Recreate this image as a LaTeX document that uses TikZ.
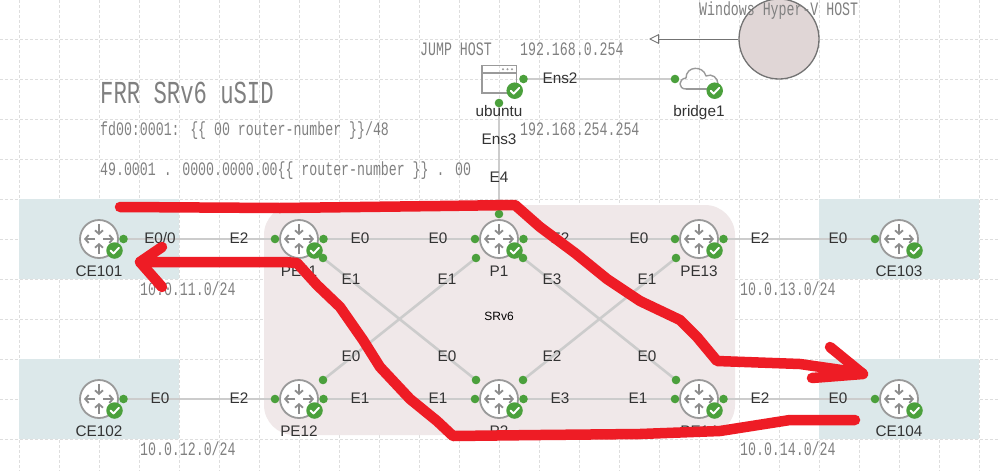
\documentclass[tikz,border=0pt]{standalone}
\usepackage{fontspec}
\usepackage{graphicx}
\setmainfont{Liberation Sans}
\newfontfamily\monoface{Liberation Mono}
\usetikzlibrary{arrows.meta}
\definecolor{gridc}{HTML}{DEDEDE}
\definecolor{zonec}{HTML}{DCE8EA}
\definecolor{srzone}{HTML}{F0E8E9}
\definecolor{linkc}{HTML}{CCCCCC}
\definecolor{portc}{HTML}{4BA03C}
\definecolor{iconc}{HTML}{9A9A9A}
\definecolor{arrowc}{HTML}{8C8C8C}
\definecolor{notec}{HTML}{808080}
\definecolor{inkc}{HTML}{333333}
\definecolor{redc}{HTML}{EE1C25}
\definecolor{hostc}{HTML}{E0D6D6}
\newcommand{\smalltxt}[1]{\scalebox{.697}[1]{\fontsize{19}{19}\selectfont\monoface #1}}
\newcommand{\bigtxt}[1]{\scalebox{.695}[1]{\fontsize{32}{32}\selectfont\monoface #1}}
\tikzset{
  gridline/.style={gridc,line width=.8pt,dash pattern=on 2.5pt off 2.5pt},
  zone/.style={fill=zonec,draw=none},
  port/.style={circle,fill=portc,draw=none,minimum size=8.6pt,inner sep=0pt},
  link/.style={linkc,line width=2.6pt},
  lbl/.style={anchor=base,inner sep=0pt,text=inkc,font=\fontsize{15.3}{15.3}\selectfont},
  note/.style={anchor=base west,inner sep=0pt,text=notec},
  rarrow/.style={arrowc,line width=2pt,-{Straight Barb[length=3.5pt,width=8pt,line width=1.8pt]}},
  redstroke/.style={redc,line width=10.5pt,line cap=round,line join=round},
  okbadge/.style={circle,fill=portc,draw=none,minimum size=16.5pt,inner sep=0pt},
  check/.style={white,line width=1.9pt,line cap=round,line join=round},
}
\newcommand{\badge}[2]{%
  \node[okbadge] at (#1,#2) {};
  \draw[check] (#1-4,#2) -- (#1-1,#2+3) -- (#1+4.5,#2-2.8);
}
\newcommand{\rtr}[4]{%
  \node[circle,draw=iconc,fill=white,line width=1.8pt,minimum size=38pt,inner sep=0pt] (#1) at (#2,#3) {};
  \draw[rarrow] (#2,#3-15) -- (#2,#3-4);
  \draw[rarrow] (#2,#3+15) -- (#2,#3+4);
  \draw[rarrow] (#2-4,#3) -- (#2-15,#3);
  \draw[rarrow] (#2+4,#3) -- (#2+15,#3);
  \badge{#2+15.5}{#3+11.5}
  \node[lbl] (#1lbl) at (#2,#3+37.5) {#4};
}
\begin{document}
\begin{tikzpicture}[x=1pt,y=-1pt]
\useasboundingbox (0,0) rectangle (1000,471);
\fill[white] (0,0) rectangle (1000,471);
% grid
\foreach \gx in {19,59,...,979} \draw[gridline] (\gx,0) -- (\gx,471);
\foreach \gy in {39,79,...,439} \draw[gridline] (0,\gy) -- (1000,\gy);
% zones
\fill[zone] (19,199) rectangle (179,279);
\fill[zone] (19,359) rectangle (179,439);
\fill[zone] (819,199) rectangle (979,279);
\fill[zone] (819,359) rectangle (979,439);
\fill[srzone,rounded corners=30pt] (264,205) rectangle (735,435);
% host
\node[circle,draw=black!55,fill=hostc,line width=1.3pt,minimum size=80pt,inner sep=0pt] (host) at (779,39) {};
\coordinate (hostarrow) at (649,39);
\draw[black!55,line width=.9pt,-{Triangle[open,length=10pt,width=10pt,fill=white]}] (host.west) -- (hostarrow);
% ports
\foreach \pn/\px/\py in {
  ce101r/123.5/239, pe11l/275/239, pe11r/323.5/239, pe11d/323/258,
  p1l/475/239, p1r/523.5/239, p1dl/476/258, p1dr/523/258, p1t/499/214,
  pe13l/675/239, pe13r/723.5/239, pe13d/676/258, ce103l/875/239,
  ce102r/123.5/399, pe12l/275/399, pe12r/323.5/399, pe12u/323/380,
  p2l/475/399, p2r/523.5/399, p2ul/476/380, p2ur/523/380,
  pe14l/675/399, pe14r/723.5/399, pe14u/676/380, ce104l/875/399,
  ubr/523.5/79, ubb/499/103, brl/675/79}
  \coordinate (c\pn) at (\px,\py);
% links
\draw[link] (cce101r) -- (cpe11l);
\draw[link] (cpe11r) -- (cp1l);
\draw[link] (cp1r) -- (cpe13l);
\draw[link] (cpe13r) -- (cce103l);
\draw[link] (cce102r) -- (cpe12l);
\draw[link] (cpe12r) -- (cp2l);
\draw[link] (cp2r) -- (cpe14l);
\draw[link] (cpe14r) -- (cce104l);
\draw[link] (cpe11d) -- (cp2ul);
\draw[link] (cpe12u) -- (cp1dl);
\draw[link] (cp1dr) -- (cpe14u);
\draw[link] (cp2ur) -- (cpe13d);
\draw[link] (cubr) -- (cbrl);
\draw[link] (cubb) -- (cp1t);
\foreach \pn in {ce101r,pe11l,pe11r,pe11d,p1l,p1r,p1dl,p1dr,p1t,pe13l,pe13r,pe13d,ce103l,ce102r,pe12l,pe12r,pe12u,p2l,p2r,p2ul,p2ur,pe14l,pe14r,pe14u,ce104l,ubr,ubb,brl}
  \node[port] (\pn) at (c\pn) {};
% routers
\rtr{CEa}{99}{239}{CE101}
\rtr{PEa}{299}{239}{PE11}
\rtr{Pa}{499}{239}{P1}
\rtr{PEc}{699}{239}{PE13}
\rtr{CEc}{899}{239}{CE103}
\rtr{CEb}{99}{399}{CE102}
\rtr{PEb}{299}{399}{PE12}
\rtr{Pb}{499}{399}{P2}
\rtr{PEd}{699}{399}{PE14}
\rtr{CEd}{899}{399}{CE104}
% ubuntu icon
\draw[iconc,line width=1.4pt] (482,65.5) rectangle (516.5,93);
\draw[iconc,line width=1.4pt] (482,73) -- (516.5,73);
\fill[iconc] (503,69.3) circle (1.1) (507.5,69.3) circle (1.1) (512,69.3) circle (1.1);
\badge{514.7}{90.7}
% cloud icon
\draw[iconc,line width=1.4pt,line join=round] (686,89) .. controls (678,89) and (678,79) .. (686,78)
  .. controls (686,66) and (703,65) .. (706,76)
  .. controls (712,73) and (718,78) .. (718,84);
\draw[iconc,line width=1.4pt] (686,89) -- (708,89);
\badge{714.7}{90.7}
% sans labels
\foreach \tx/\ty/\tt in {
  160/243/E0\slash 0,239/243/E2,360/243/E0,438/243/E0,560/243/E2,639/243/E0,760/243/E2,838/243/E0,
  351/284/E1,447/284/E1,552/284/E3,647/284/E1,
  351/361/E0,447/361/E0,552/361/E2,647/361/E0,
  160/403/E0,239/403/E2,360/403/E1,438/403/E1,560/403/E3,638/403/E1,760/403/E2,838/403/E0,
  499/182/E4,499/144/Ens3,560/83/Ens2,499/116/ubuntu,699/116/bridge1}
  \node[lbl] at (\tx,\ty) {\tt};
\node[lbl,font=\fontsize{12}{12}\selectfont,text=black] at (499,320) {SRv6};
% notes
\node[note] at (100,103) {\bigtxt{FRR SRv6 uSID}};
\node[note] at (100,135) {\smalltxt{fd00:0001: \{\{ 00 router-number \}\}/48}};
\node[note] at (100,175) {\smalltxt{49.0001 . 0000.0000.00\{\{ router-number \}\} . 00}};
\node[note] at (420,55) {\smalltxt{JUMP HOST}};
\node[note] at (520,55) {\smalltxt{192.168.0.254}};
\node[note] at (520,135) {\smalltxt{192.168.254.254}};
\node[note] at (699,15) {\smalltxt{Windows Hyper-V HOST}};
\node[note] at (140,295) {\smalltxt{10.0.11.0/24}};
\node[note] at (140,455) {\smalltxt{10.0.12.0/24}};
\node[note] at (740,295) {\smalltxt{10.0.13.0/24}};
\node[note] at (740,455) {\smalltxt{10.0.14.0/24}};
% red strokes
\draw[redstroke] (120,207) -- (280,208) -- (440,206) -- (515,205) -- (540,227) -- (575,253) -- (607,279) -- (640,301) -- (680,320) -- (697,337) -- (717,361) -- (800,364) -- (862,373);
\draw[redstroke] (830,347) -- (863,374) -- (812,378);
\draw[redstroke] (855,420) -- (790,420) -- (720,431) -- (640,434) -- (540,435) -- (453,436) -- (437,421) -- (410,399) -- (380,367) -- (363,340) -- (340,307) -- (317,285) -- (297,263) -- (285,262) -- (140,262);
\draw[redstroke] (162,247) -- (140,262) -- (162,287);
\end{tikzpicture}
\end{document}
